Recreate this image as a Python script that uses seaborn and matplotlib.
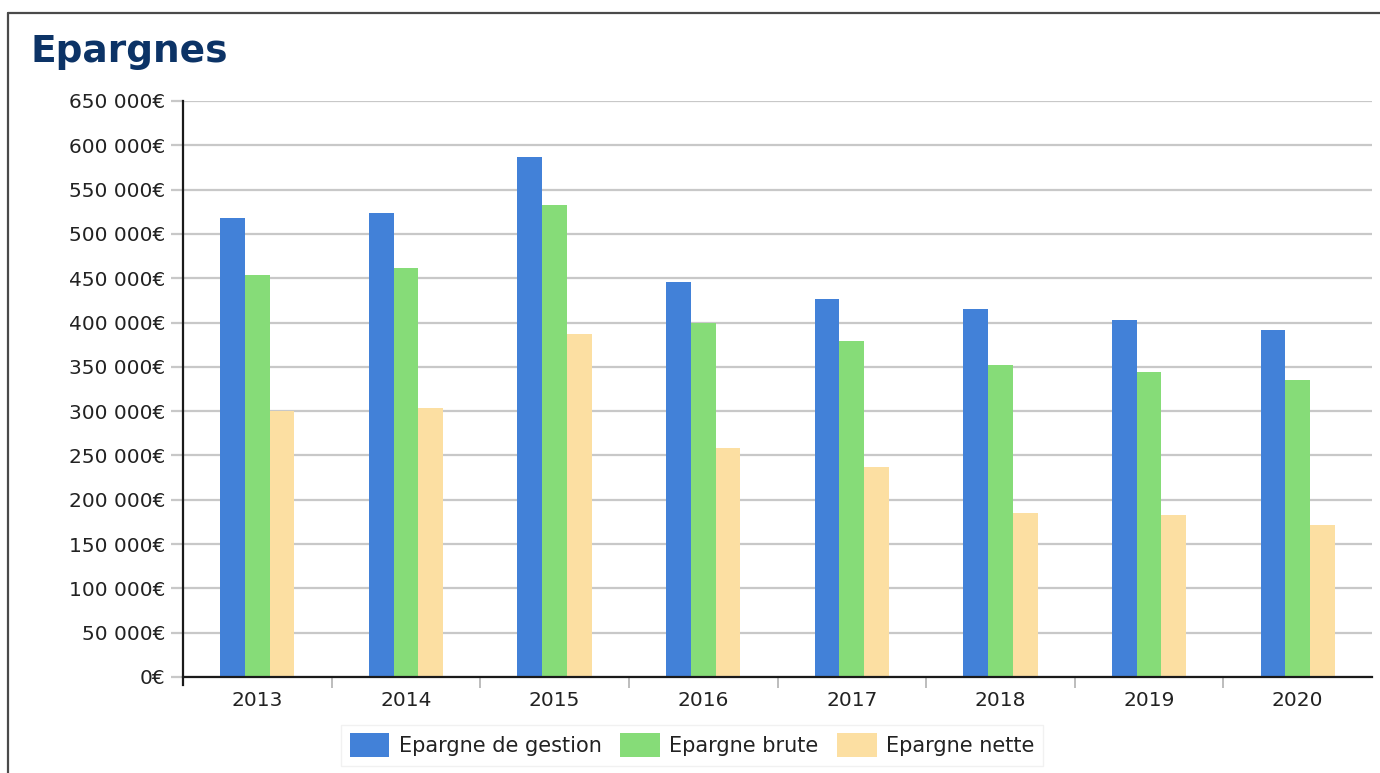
import numpy as np
import pandas as pd
import matplotlib
matplotlib.use("Agg")
import matplotlib.pyplot as plt
from matplotlib.ticker import FuncFormatter, FixedLocator
from matplotlib.lines import Line2D
from matplotlib.patches import Patch
import seaborn as sns

years = ["2013", "2014", "2015", "2016", "2017", "2018", "2019", "2020"]
epargne_gestion = [518000, 524000, 587000, 446000, 426000, 415000, 403000, 392000]
epargne_brute = [454000, 462000, 533000, 400000, 379000, 352000, 344000, 335000]
epargne_nette = [300000, 304000, 387000, 258000, 237000, 185000, 183000, 172000]
series_names = ["Epargne de gestion", "Epargne brute", "Epargne nette"]
colors = ["#4281d8", "#86dc78", "#fcdfa2"]

df = pd.DataFrame({
    "annee": years * 3,
    "serie": [series_names[0]] * 8 + [series_names[1]] * 8 + [series_names[2]] * 8,
    "valeur": epargne_gestion + epargne_brute + epargne_nette,
})

sns.set_theme(style="white")
plt.rcParams["font.family"] = ["DejaVu Sans"]

fig = plt.figure(figsize=(13.8, 7.73), dpi=100)
ax = fig.add_axes([183 / 1380, 1 - 677 / 773, (1372 - 183) / 1380, (677 - 101) / 773])

sns.barplot(data=df, x="annee", y="valeur", hue="serie", order=years,
            hue_order=series_names, palette=colors, width=0.5,
            saturation=1, ax=ax, legend=False, linewidth=0)

ax.set_xlim(-0.5, 7.5)
ax.set_ylim(0, 650000)
ax.set_yticks(np.arange(0, 650001, 50000))


def euro(v, pos):
    s = f"{int(round(v)):,}".replace(",", " ")
    return s + "€"


ax.yaxis.set_major_formatter(FuncFormatter(euro))
ax.grid(axis="y", color="#c8c8c8", linewidth=1.6)
ax.set_axisbelow(True)
ax.set_xlabel("")
ax.set_ylabel("")

for side in ["top", "right"]:
    ax.spines[side].set_visible(False)
for side in ["left", "bottom"]:
    ax.spines[side].set_color("#1a1a1a")
    ax.spines[side].set_linewidth(1.6)
ax.spines["left"].set_bounds(-9000, 650000)

ax.tick_params(axis="y", which="major", length=9, width=1.6, color="#c8c8c8",
               pad=4, labelsize=14.5, labelcolor="#222222", left=True)
ax.tick_params(axis="x", which="major", length=0, pad=10, labelsize=14.5,
               labelcolor="#222222")
ax.xaxis.set_minor_locator(FixedLocator(np.arange(0.5, 7.5, 1.0)))
ax.tick_params(axis="x", which="minor", length=8, width=1.4, color="#bdbdbd",
               bottom=True)

fig.text(30 / 1380, 1 - 52 / 773, "Epargnes", fontsize=27, fontweight="bold",
         color="#0c3366", va="center", ha="left")

handles = [Patch(facecolor=c, edgecolor="none") for c in colors]
leg = fig.legend(handles, series_names, loc="lower center",
                 bbox_to_anchor=(0.5015, -0.004), ncol=3, fontsize=15,
                 frameon=True, handlelength=1.9, handleheight=1.4,
                 handletextpad=0.45, columnspacing=0.9, borderpad=0.4,
                 fancybox=False)
leg.get_frame().set_edgecolor("#eeeeee")
leg.get_frame().set_linewidth(1.0)
for t in leg.get_texts():
    t.set_color("#222222")

# outer frame of the panel (top and left edges)
fig.add_artist(Line2D([8 / 1380, 1.0], [1 - 13 / 773, 1 - 13 / 773],
                      transform=fig.transFigure, color="#4a4a4a", linewidth=1.6))
fig.add_artist(Line2D([8 / 1380, 8 / 1380], [0.0, 1 - 13 / 773],
                      transform=fig.transFigure, color="#4a4a4a", linewidth=1.6))

fig.savefig("out.png", dpi=100, facecolor="white")
